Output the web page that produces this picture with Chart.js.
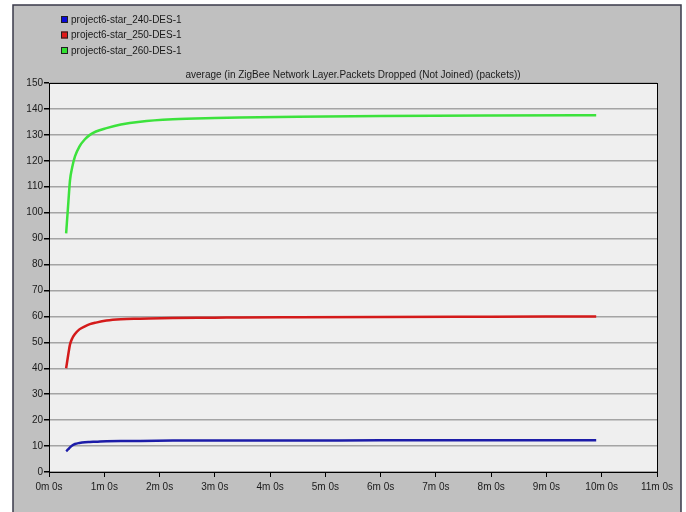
<!DOCTYPE html>
<html lang="en">
<head>
    <meta charset="UTF-8">
    <title>ZigBee Packets Dropped (Not Joined)</title>
    <script src="https://cdn.jsdelivr.net/npm/chart.js"></script>
    <style>
        html, body { margin: 0; padding: 0; background: #ffffff; }
        #wrap { width: 686px; height: 512px; }
    </style>
</head>
<body>
<div id="wrap"><canvas id="chart" width="686" height="512"></canvas></div>

<script>
    // time in minutes
    const times = [0.31, 0.35, 0.38, 0.42, 0.47, 0.55, 0.65, 0.74, 0.85, 1.04, 1.3, 1.65, 2.24, 3.0, 3.45, 4.5, 6, 8, 9.9];

    const star240 = [8, 8.8, 9.5, 10.2, 10.8, 11.2, 11.5, 11.6, 11.7, 11.9, 12, 12, 12.1, 12.1, 12.1, 12.1, 12.2, 12.2, 12.2];
    const star250 = [40, 45.5, 49.2, 51.5, 53.2, 55, 56.2, 57, 57.6, 58.4, 58.9, 59.1, 59.4, 59.5, 59.6, 59.7, 59.8, 59.9, 60];
    const star260 = [92, 104, 112.5, 117.5, 121.7, 125.5, 128.3, 130, 131.3, 132.6, 134, 135.1, 136, 136.5, 136.7, 137, 137.3, 137.5, 137.6];

    const seriesLabels = ['project6-star_240-DES-1', 'project6-star_250-DES-1', 'project6-star_260-DES-1'];
    const seriesColors = ['#1c1ca8', '#d41a1a', '#3ce23c'];
    const legendFills = ['#0a0ad8', '#e01818', '#30e030'];

    const chartTitle = 'average (in ZigBee Network Layer.Packets Dropped (Not Joined) (packets))';

    const yMin = 0, yMax = 150, yStep = 10;
    const xMin = 0, xMax = 11, xStep = 1;

    function toPoints(vals) {
        return vals.map((v, i) => ({ x: times[i], y: v }));
    }

    const FONT = '"Liberation Sans", Arial, sans-serif';

    // gray panel, plot background, frame, title and legend
    const panelPlugin = {
        id: 'panel',
        beforeDraw(chart) {
            const ctx = chart.ctx;
            const a = chart.chartArea;
            ctx.save();
            ctx.fillStyle = '#ffffff';
            ctx.fillRect(0, 0, chart.width, chart.height);
            ctx.fillStyle = '#c0c0c0';
            ctx.fillRect(13, 5, 668, 520);
            ctx.strokeStyle = '#3a3a4a';
            ctx.lineWidth = 1.5;
            ctx.strokeRect(13, 5, 668, 520);
            ctx.fillStyle = '#efefef';
            ctx.fillRect(a.left, a.top, a.right - a.left, a.bottom - a.top);
            ctx.restore();
        },
        afterDraw(chart) {
            const ctx = chart.ctx;
            const a = chart.chartArea;
            ctx.save();
            ctx.strokeStyle = '#000000';
            ctx.lineWidth = 1;
            ctx.strokeRect(a.left + 0.5, a.top + 0.5, a.right - a.left, a.bottom - a.top);

            ctx.fillStyle = '#1a1a1a';
            ctx.font = '10px ' + FONT;
            ctx.textAlign = 'center';
            ctx.textBaseline = 'middle';
            ctx.fillText(chartTitle, (a.left + a.right) / 2, 75);

            ctx.textAlign = 'left';
            chart.data.datasets.forEach((ds, i) => {
                const y = 20 + i * 15.5;
                ctx.fillStyle = legendFills[i];
                ctx.fillRect(61, y - 4, 7, 7);
                ctx.strokeStyle = '#202020';
                ctx.strokeRect(61.5, y - 3.5, 6, 6);
                ctx.fillStyle = '#1a1a1a';
                ctx.fillText(ds.label, 71, y);
            });
            ctx.restore();
        }
    };

    const datasets = [star240, star250, star260].map((vals, i) => ({
        label: seriesLabels[i],
        data: toPoints(vals),
        borderColor: seriesColors[i],
        borderWidth: 2.5,
        pointRadius: 0,
        fill: false,
        cubicInterpolationMode: 'monotone'
    }));

    new Chart(document.getElementById('chart'), {
        type: 'line',
        data: { datasets: datasets },
        plugins: [panelPlugin],
        options: {
            responsive: false,
            animation: false,
            layout: { padding: { left: 0, top: 83, right: 29, bottom: 0 } },
            plugins: {
                legend: { display: false },
                tooltip: { enabled: false }
            },
            scales: {
                x: {
                    type: 'linear',
                    min: xMin,
                    max: xMax,
                    ticks: {
                        stepSize: xStep,
                        color: '#1a1a1a',
                        font: { family: FONT, size: 10 },
                        padding: 4,
                        maxRotation: 0,
                        callback: v => v + 'm 0s'
                    },
                    grid: {
                        drawOnChartArea: false,
                        drawTicks: true,
                        tickLength: 5,
                        tickColor: '#000000'
                    },
                    border: { color: '#000000', width: 1 },
                    afterFit: s => { s.height = 40; }
                },
                y: {
                    min: yMin,
                    max: yMax,
                    ticks: {
                        stepSize: yStep,
                        color: '#1a1a1a',
                        font: { family: FONT, size: 10 },
                        padding: 1
                    },
                    grid: {
                        color: '#a4a4a4',
                        lineWidth: 1.5,
                        tickLength: 5,
                        tickColor: '#000000'
                    },
                    border: { color: '#000000', width: 1 },
                    afterFit: s => { s.width = 49; }
                }
            }
        }
    });
</script>
</body>
</html>
